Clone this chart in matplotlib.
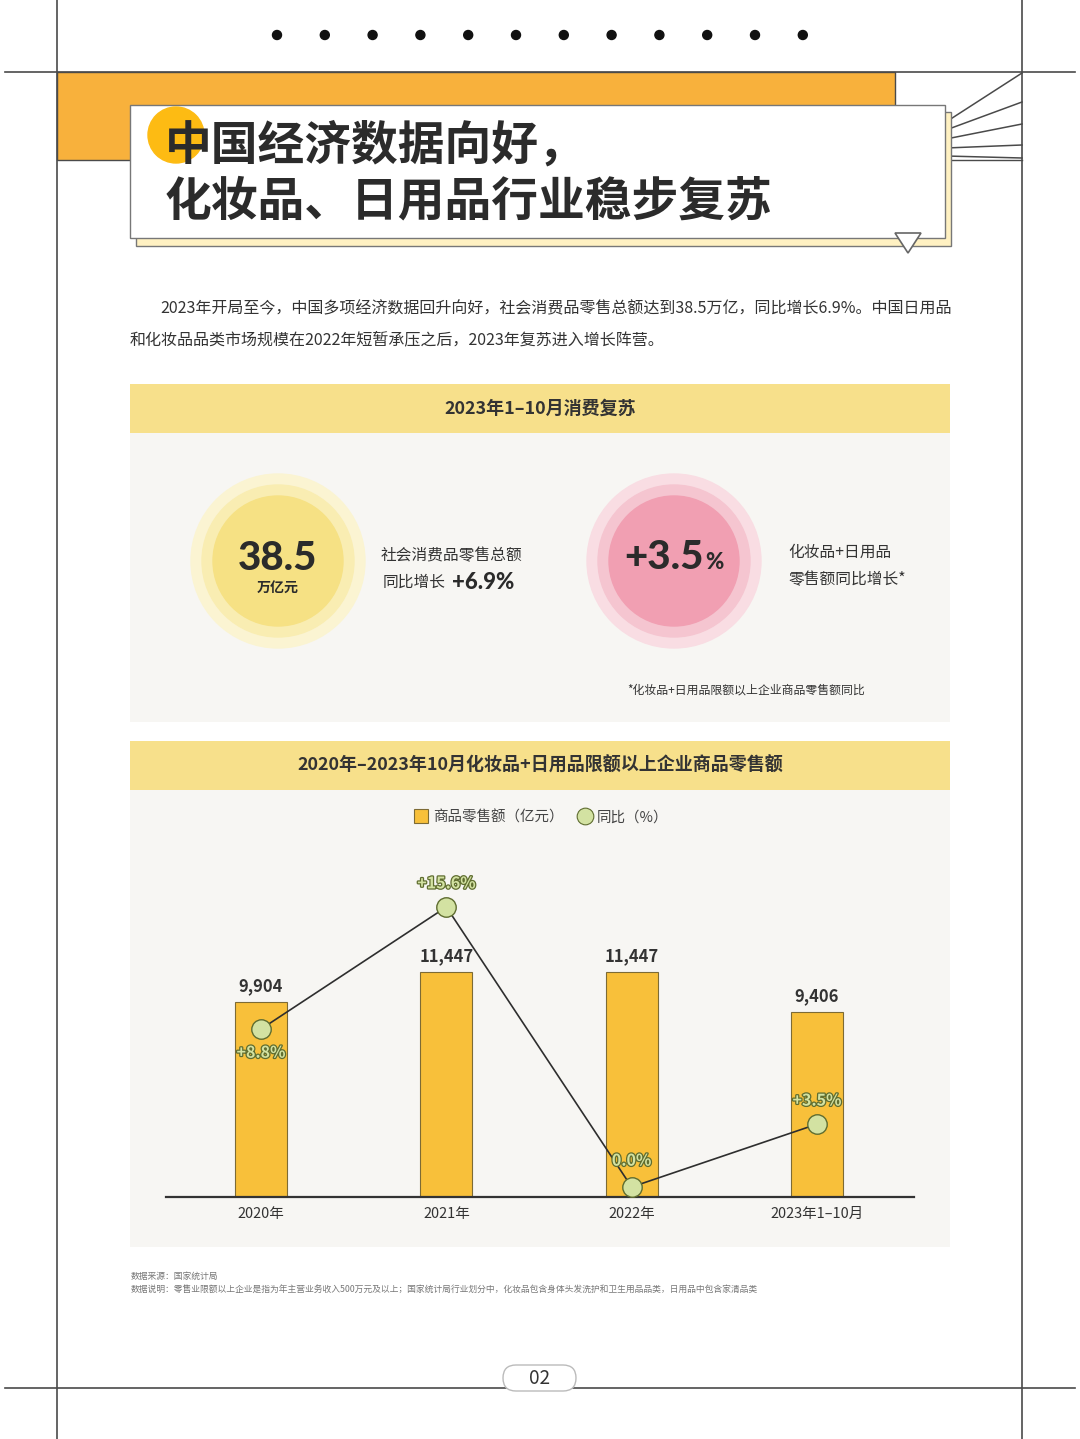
import matplotlib
matplotlib.use("Agg")
import matplotlib.pyplot as plt
from matplotlib.patches import Rectangle, Circle, Polygon, FancyBboxPatch
from matplotlib.lines import Line2D
import matplotlib.patheffects as pe

plt.rcParams['font.family'] = ['Noto Sans CJK SC', 'DejaVu Sans']

# ---------------- data ----------------
categories = ["2020年", "2021年", "2022年", "2023年1–10月"]
sales = [9904, 11447, 11447, 9406]          # 商品零售额（亿元）
sales_labels = ["9,904", "11,447", "11,447", "9,406"]
yoy = [8.8, 15.6, 0.0, 3.5]                 # 同比（%）
yoy_labels = ["+8.8%", "+15.6%", "0.0%", "+3.5%"]
title_lines = ["中国经济数据向好，", "化妆品、日用品行业稳步复苏"]
para_line1 = "2023年开局至今，中国多项经济数据回升向好，社会消费品零售总额达到38.5万亿，同比增长6.9%。中国日用品"
para_line2 = "和化妆品品类市场规模在2022年短暂承压之后，2023年复苏进入增长阵营。"
kpi_total = "38.5"
kpi_total_unit = "万亿元"
kpi_total_growth = "+6.9%"
kpi_cosm = "+3.5"
section1_title = "2023年1–10月消费复苏"
section2_title = "2020年–2023年10月化妆品+日用品限额以上企业商品零售额"
legend_labels = ["商品零售额（亿元）", "同比（%）"]
footnotes = ["数据来源：国家统计局",
             "数据说明：零售业限额以上企业是指为年主营业务收入500万元及以上；国家统计局行业划分中，化妆品包含身体头发洗护和卫生用品品类，日用品中包含家清品类"]
page_no = "02"

# ---------------- styles ----------------
W, H = 1080, 1439
BAR = "#F8C03A"
BAR_EDGE = "#7d6b35"
GREEN = "#D3E2A2"
GREEN_EDGE = "#5f6d30"
PANEL = "#F7F6F3"
BAND = "#F7E08B"
ORANGE = "#F8B13C"
LINEC = "#4a4a4a"
TXT = "#333333"

def pt(px):
    return px * 0.72

fig = plt.figure(figsize=(W / 100, H / 100), dpi=100)
fig.patch.set_facecolor("white")

bg = fig.add_axes([0, 0, 1, 1])
bg.set_xlim(0, W)
bg.set_ylim(H, 0)
bg.axis("off")
bg.set_zorder(0)

# frame lines
for x in (57, 1022):
    bg.plot([x, x], [0, H], color=LINEC, lw=1.2, zorder=1)
for y in (72, 1388):
    bg.plot([5, 1075], [y, y], color=LINEC, lw=1.2, zorder=1)

# dots at top
for i in range(12):
    bg.add_patch(Circle((277 + i * 47.8, 35), 4.5, color="#111111", zorder=2))

# orange header band
bg.add_patch(Rectangle((57, 72), 838, 88, facecolor=ORANGE, edgecolor=LINEC, lw=1.0, zorder=2))
bg.plot([895, 1022], [160, 160], color=LINEC, lw=1.0, zorder=2)
# fan lines
for y0, y1 in [(73, 122), (102, 130), (124, 139), (145, 148), (158, 156)]:
    bg.plot([1022, 946], [y0, y1], color=LINEC, lw=1.1, zorder=2)

# title boxes
bg.add_patch(Rectangle((136, 112), 815, 134, facecolor="#FFF1C2", edgecolor="#777777", lw=1.0, zorder=3))
bg.add_patch(Rectangle((130, 105), 815, 133, facecolor="white", edgecolor="#777777", lw=1.0, zorder=4))
bg.add_patch(Circle((176, 135), 28, color="#FDBB13", zorder=5))
bg.add_patch(Polygon([(895, 233), (921, 233), (908, 253)], closed=True,
                     facecolor="white", edgecolor="#666666", lw=1.2, zorder=6))
bg.text(165, 146, title_lines[0], fontsize=pt(46.8), fontweight="heavy", color="#2b2b2b",
        va="center", ha="left", zorder=6)
bg.text(165, 201, title_lines[1], fontsize=pt(46.8), fontweight="heavy", color="#2b2b2b",
        va="center", ha="left", zorder=6)

# paragraph
bg.text(160, 309, para_line1, fontsize=pt(16.0), color=TXT, va="center", ha="left", zorder=3)
bg.text(130, 340, para_line2, fontsize=pt(16.0), color=TXT, va="center", ha="left", zorder=3)

# section 1 panel
bg.add_patch(Rectangle((130, 384), 820, 338, facecolor=PANEL, edgecolor="none", zorder=2))
bg.add_patch(Rectangle((130, 384), 820, 49, facecolor=BAND, edgecolor="none", zorder=3))
bg.text(540, 409, section1_title, fontsize=pt(18), fontweight="bold", color=TXT,
        ha="center", va="center", zorder=4)

# yellow circle
for r, c in [(87, "#FBF4D2"), (76, "#F9EDB2"), (65, "#F6E184")]:
    bg.add_patch(Circle((278, 561), r, color=c, zorder=3))
bg.text(278, 570, kpi_total, fontsize=29, fontweight="black", family=["Lato", "Noto Sans CJK SC"],
        color="#2b2b2b", ha="center", va="baseline", zorder=5)
bg.text(278, 588, kpi_total_unit, fontsize=pt(14), fontweight="bold", color="#2b2b2b",
        ha="center", va="center", zorder=5)
bg.text(381, 556, "社会消费品零售总额", fontsize=pt(15.7), color=TXT, ha="left", va="center", zorder=4)
bg.text(383, 582, "同比增长", fontsize=pt(15.7), color=TXT, ha="left", va="center", zorder=4)
bg.text(452, 589, kpi_total_growth, fontsize=16, fontweight="black", family=["Lato", "Noto Sans CJK SC"],
        color="#2b2b2b", ha="left", va="baseline", zorder=4)

# pink circle
for r, c in [(87, "#F9DDE3"), (76, "#F5C5D0"), (65, "#F19FB2")]:
    bg.add_patch(Circle((674, 561), r, color=c, zorder=3))
bg.text(704, 569, kpi_cosm, fontsize=29, fontweight="black", family=["Lato", "Noto Sans CJK SC"],
        color="#2b2b2b", ha="right", va="baseline", zorder=5)
bg.text(705, 569, "%", fontsize=16, fontweight="black", family=["Lato", "Noto Sans CJK SC"],
        color="#2b2b2b", ha="left", va="baseline", zorder=5)
bg.text(788, 552, "化妆品+日用品", fontsize=pt(15.7), color=TXT, ha="left", va="center", zorder=4)
bg.text(788, 580, "零售额同比增长*", fontsize=pt(15.7), color=TXT, ha="left", va="center", zorder=4)
bg.text(627, 690, "*化妆品+日用品限额以上企业商品零售额同比", fontsize=pt(11.9), color=TXT,
        ha="left", va="center", zorder=4)

# section 2 panel
bg.add_patch(Rectangle((130, 741), 820, 506, facecolor=PANEL, edgecolor="none", zorder=2))
bg.add_patch(Rectangle((130, 741), 820, 49, facecolor=BAND, edgecolor="none", zorder=3))
bg.text(540, 766, section2_title, fontsize=pt(18), fontweight="bold", color=TXT,
        ha="center", va="center", zorder=4)

# footnotes
bg.text(131, 1276, footnotes[0], fontsize=pt(8.8), color="#777777", ha="left", va="center", zorder=3)
bg.text(131, 1290, footnotes[1], fontsize=pt(8.8), color="#777777", ha="left", va="center", zorder=3)

# page number
bg.add_patch(FancyBboxPatch((503, 1365), 73, 26, boxstyle="round,pad=0,rounding_size=13",
                            facecolor="white", edgecolor="#bbbbbb", lw=1.0, zorder=3))
bg.text(540, 1378, page_no, fontsize=pt(19), color=TXT, ha="center", va="center", zorder=4)

# ---------------- chart ----------------
x_left, x_right, y_top, y_base = 166, 914, 850, 1197
ax = fig.add_axes([x_left / W, 1 - y_base / H, (x_right - x_left) / W, (y_base - y_top) / H])
ax.set_zorder(5)
ax.patch.set_alpha(0)
xs = list(range(len(categories)))
ax.set_xlim(-0.513, 3.524)
ax.set_ylim(0, max(sales) * (y_base - y_top) / 225.0)
ax.bar(xs, sales, width=0.28, color=BAR, edgecolor=BAR_EDGE, linewidth=0.8, zorder=2)
for x, v, lab in zip(xs, sales, sales_labels):
    ax.annotate(lab, (x, v), xytext=(0, 5), textcoords="offset points", ha="center", va="bottom",
                fontsize=pt(16.5), fontweight="bold", color=TXT)
for s in ("top", "right", "left"):
    ax.spines[s].set_visible(False)
ax.spines["bottom"].set_color("#333333")
ax.spines["bottom"].set_linewidth(1.6)
ax.set_yticks([])
ax.set_xticks(xs)
ax.set_xticklabels(categories, fontsize=pt(14.5), color=TXT)
ax.tick_params(axis="x", length=0, pad=7)

ax2 = ax.twinx()
ax2.patch.set_alpha(0)
ppp = 280 / 15.6
ax2.set_ylim(-10 / ppp, (1187 - y_top) / ppp)
ax2.axis("off")
ax2.plot(xs, yoy, color="#2e2e2e", lw=1.2, marker="o", markersize=14,
         markerfacecolor=GREEN, markeredgecolor=GREEN_EDGE, markeredgewidth=1.0, zorder=3)
offsets = [(0, -17), (0, 17), (0, 19), (0, 17)]
for x, v, lab, off in zip(xs, yoy, yoy_labels, offsets):
    t = ax2.annotate(lab, (x, v), xytext=off, textcoords="offset points", ha="center", va="center",
                     fontsize=pt(16), fontweight="bold", color=GREEN)
    t.set_path_effects([pe.withStroke(linewidth=1.8, foreground=GREEN_EDGE)])

handles = [Line2D([], [], ls="none", marker="s", markersize=10, markerfacecolor=BAR,
                  markeredgecolor=BAR_EDGE, markeredgewidth=0.8),
           Line2D([], [], ls="none", marker="o", markersize=12, markerfacecolor=GREEN,
                  markeredgecolor=GREEN_EDGE, markeredgewidth=0.8)]
leg = fig.legend(handles, legend_labels, loc="center", bbox_to_anchor=(541 / W, 1 - 817 / H),
                 ncol=2, frameon=False, fontsize=pt(14.5), handletextpad=0.3, columnspacing=1.0,
                 handlelength=1.0)
for t in leg.get_texts():
    t.set_color("#444444")

fig.savefig("out.png", dpi=100)
